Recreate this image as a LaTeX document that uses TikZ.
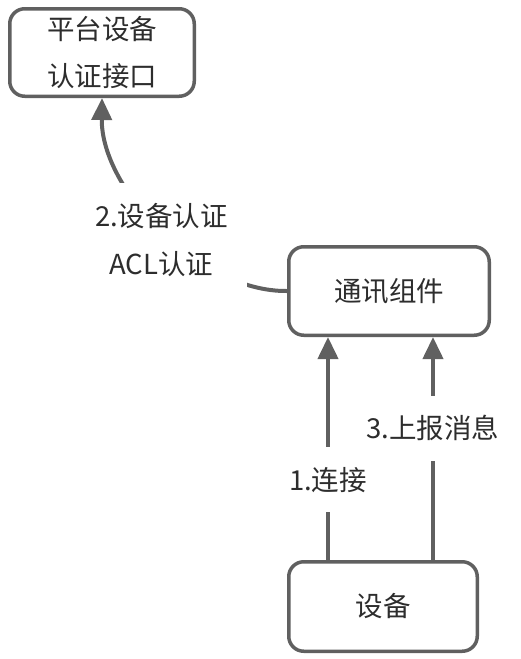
\documentclass[tikz,border=0pt]{standalone}
\usepackage{fontspec}
\setmainfont{Noto Sans CJK SC}
\usetikzlibrary{calc,arrows.meta}
\definecolor{linegray}{RGB}{96,96,96}
\definecolor{textgray}{RGB}{45,45,45}
\def\boxnode{\node[draw=linegray,line width=3.5pt,rounded corners=15pt,text=textgray,align=center,font=\fontsize{27.5}{47}\selectfont]}
\def\drawconn{\draw[color=linegray,line width=4pt,-{Triangle[width=20pt,length=22pt]}]}
\tikzset{lbl/.style={fill=white,text=textgray,align=center,font=\fontsize{27.5}{48}\selectfont}}

\begin{document}
\begin{tikzpicture}[x=1pt,y=-1pt]
\useasboundingbox (0,0) rectangle (521,659);
\boxnode[minimum width=184.5pt,minimum height=87.5pt] (platform) at (102,52.5) {平台设备\\认证接口};
\boxnode[minimum width=200.5pt,minimum height=88.5pt] (comm) at (389,291) {通讯组件};
\boxnode[minimum width=188.5pt,minimum height=89.5pt] (device) at (383,606.5) {设备};
\coordinate (c1) at (328,0);
\coordinate (c3) at (433,0);
\drawconn (device.north -| c1) -- node[lbl,pos=0.36,minimum height=65pt] (conn) {1.连接} (comm.south -| c1);
\drawconn (device.north -| c3) -- node[lbl,pos=0.59,minimum height=65pt] (report) {3.上报消息} (comm.south -| c3);
\drawconn (comm.west) .. controls (200,292) and (101,190) .. node[lbl,pos=0.45,xshift=-11pt,minimum width=172pt,minimum height=114pt] (auth) {2.设备认证\\ACL认证} (platform.south);
\end{tikzpicture}
\end{document}
